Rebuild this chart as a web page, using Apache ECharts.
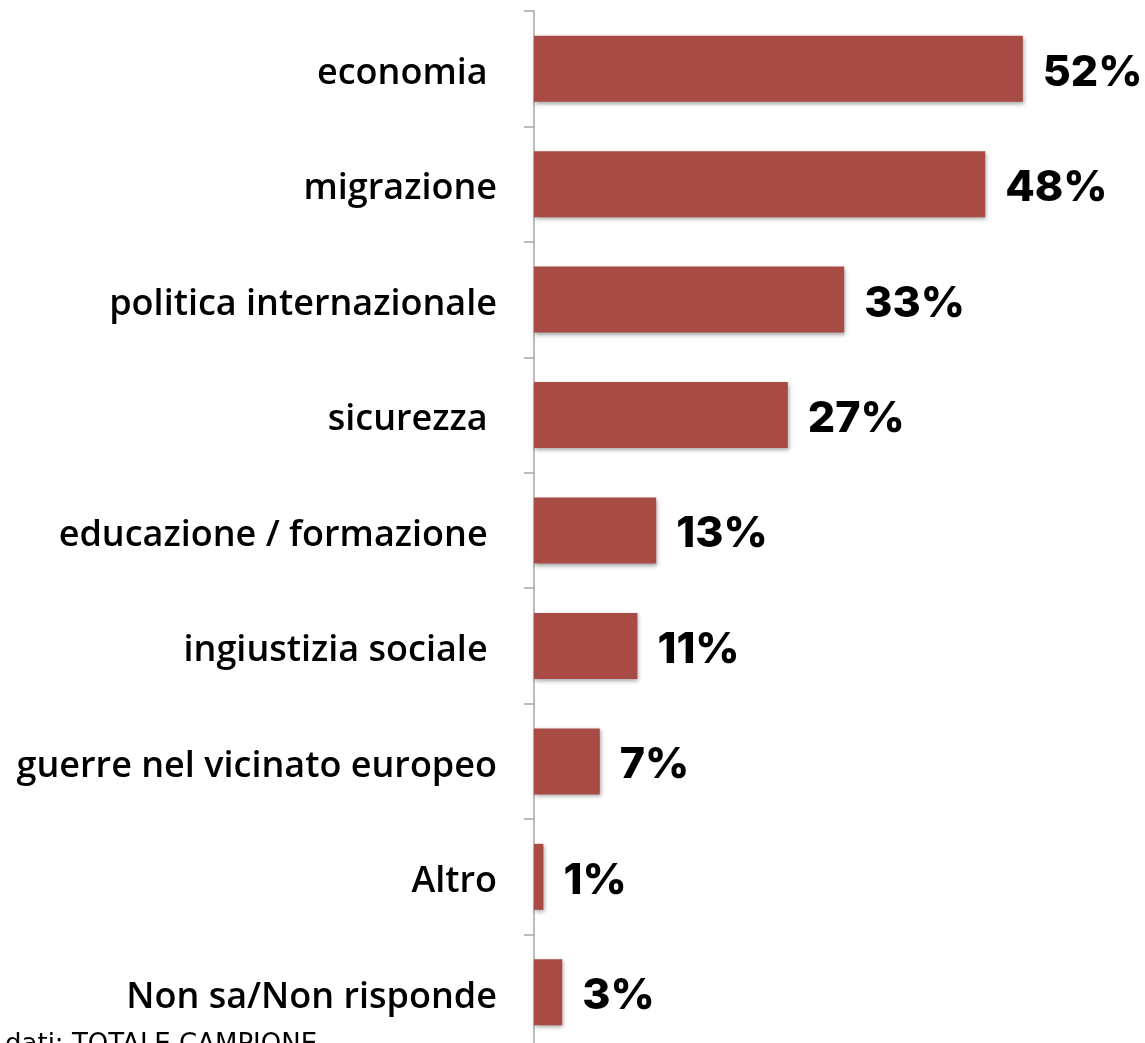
<!DOCTYPE html>
<html><head><meta charset="utf-8">
<script src="https://cdn.jsdelivr.net/npm/echarts@6/dist/echarts.min.js"></script>
<style>html,body{margin:0;padding:0;background:#fff}#c{width:1145px;height:1043px}</style>
</head><body><div id="c"></div>
<script>
const categories = ['economia ', 'migrazione', 'politica internazionale', 'sicurezza ', 'educazione / formazione ', 'ingiustizia sociale ', 'guerre nel vicinato europeo', 'Altro', 'Non sa/Non risponde'];
const values = [52, 48, 33, 27, 13, 11, 7, 1, 3];
const footnote = 'dati: TOTALE CAMPIONE';

const chart = echarts.init(document.getElementById('c'));
chart.setOption({
  animation: false,
  grid: {left: 534, width: 611, top: 11, height: 1039, containLabel: false, outerBoundsMode: 'none'},
  xAxis: {type: 'value', min: 0, max: 65, show: false},
  yAxis: {
    type: 'category', data: categories, inverse: true,
    axisLine: {show: true, lineStyle: {color: '#a6a6a6', width: 1.5}},
    axisTick: {show: true, length: 10, lineStyle: {color: '#a6a6a6', width: 1.5}},
    axisLabel: {color: '#000', fontFamily: 'Open Sans', fontWeight: 600, fontSize: 36, margin: 37, verticalAlign: 'top', lineHeight: 10}
  },
  series: [{
    type: 'bar', data: values, barWidth: 66,
    itemStyle: {color: '#a84b45', shadowColor: 'rgba(0,0,0,0.35)', shadowBlur: 4, shadowOffsetX: 1, shadowOffsetY: 2},
    label: {show: true, position: 'right', distance: 20, formatter: '{c}%', color: '#000', fontFamily: 'Inter', fontWeight: 800, fontSize: 43, verticalAlign: 'top', lineHeight: 8}
  }],
  graphic: [{type: 'text', left: 5, top: 1032, style: {text: footnote, fontFamily: 'DejaVu Sans', fontSize: 26, fill: '#000'}}]
});
</script></body></html>
